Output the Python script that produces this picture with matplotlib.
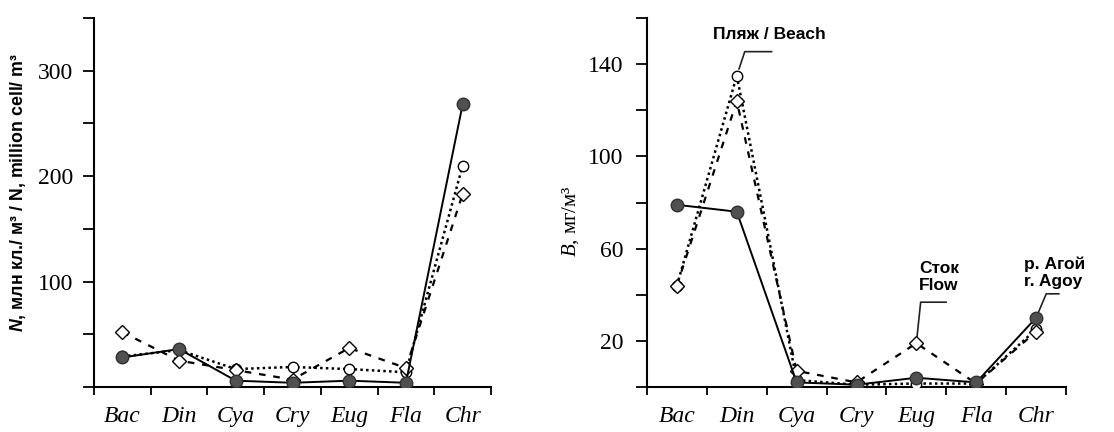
import matplotlib
matplotlib.use("Agg")
import matplotlib.pyplot as plt
import numpy as np

plt.rcParams['mathtext.fontset'] = 'custom'
plt.rcParams['mathtext.it'] = 'Liberation Serif:italic'
plt.rcParams['mathtext.rm'] = 'Liberation Serif'
plt.rcParams['mathtext.bfit'] = 'Liberation Sans:bold:italic'
plt.rcParams['mathtext.bf'] = 'Liberation Sans:bold'

categories = ["Bac", "Din", "Cya", "Cry", "Eug", "Fla", "Chr"]

# Left panel: abundance N, million cells / m3
N_agoy = [28, 36, 6, 4, 6, 4, 268]
N_beach = [29, 35, 17, 19, 17, 14, 210]
N_flow = [52, 25, 16, 7, 37, 18, 183]

# Right panel: biomass B, mg/m3
B_agoy = [79, 76, 2, 1, 4, 2, 30]
B_beach = [44, 135, 3, 1, 1.5, 1.5, 25]
B_flow = [44, 124, 7, 2, 19, 1.5, 24]

left_yticks = [0, 50, 100, 150, 200, 250, 300, 350]
left_ylabels = ["", "", "100", "", "200", "", "300", ""]
right_yticks = [0, 20, 40, 60, 80, 100, 120, 140, 160]
right_ylabels = ["", "20", "", "60", "", "100", "", "140", ""]

fig = plt.figure(figsize=(11.14, 4.32), dpi=100)
axL = fig.add_axes([94/1114, 1-387/432, 397/1114, 369/432])
axR = fig.add_axes([647/1114, 1-387/432, 419/1114, 369/432])

x = np.arange(len(categories))

def draw(ax, agoy, beach, flow, ymax, yticks, ylabels, ypad):
    ax.plot(x, beach, linestyle=(0, (1, 1.3)), lw=1.8, color='black',
            marker='o', ms=7.5, mfc='white', mec='black', mew=1.0, zorder=3)
    ax.plot(x, flow, linestyle=(0, (3, 3.5)), lw=1.6, color='black',
            marker='D', ms=7, mfc='white', mec='black', mew=1.0, zorder=4)
    ax.plot(x, agoy, linestyle='-', lw=1.4, color='black',
            marker='o', ms=9, mfc='#505050', mec='#303030', mew=1.0, zorder=5)
    ax.set_xlim(-0.5, len(categories) - 0.5)
    ax.set_ylim(0, ymax)
    for s in ['top', 'right']:
        ax.spines[s].set_visible(False)
    for s in ['left', 'bottom']:
        ax.spines[s].set_linewidth(1.5)
    ax.set_xticks(np.arange(-0.5, len(categories)), labels=[])
    ax.set_xticks(x, labels=categories, minor=True)
    ax.tick_params(axis='x', which='major', direction='out', length=6, width=1.3)
    ax.tick_params(axis='x', which='minor', length=0, pad=14)
    for t in ax.get_xticklabels(minor=True):
        t.set_fontfamily('Liberation Serif')
        t.set_fontstyle('italic')
        t.set_fontsize(17)
    ax.set_yticks(yticks, labels=ylabels)
    ax.tick_params(axis='y', direction='out', length=8, width=1.3, pad=ypad)
    for t in ax.get_yticklabels():
        t.set_fontfamily('Liberation Serif')
        t.set_fontsize(17)

draw(axL, N_agoy, N_beach, N_flow, 350, left_yticks, left_ylabels, 7)
draw(axR, B_agoy, B_beach, B_flow, 160, right_yticks, right_ylabels, 9)

axL.set_ylabel(r"$\mathbfit{N}$, млн кл./ м³ / N, million cell/ m³",
               fontfamily='Liberation Sans', fontweight='bold', fontsize=12.8)
axL.yaxis.set_label_coords(-0.166, 0.528)
axR.set_ylabel(r"$\mathit{B}$, мг/м³", fontfamily='Liberation Serif', fontsize=15)
axR.yaxis.set_label_coords(-0.158, 0.45)

def leader(ax, i, val, angle, end_off, text, text_off, ha='center'):
    pt = 72 / 100
    ax.annotate('', xy=(i, val), xytext=(end_off[0]*pt, end_off[1]*pt),
                textcoords='offset points',
                arrowprops=dict(arrowstyle='-', lw=1.2, color='#222222',
                                connectionstyle=f'angle,angleA=0,angleB={angle},rad=0',
                                shrinkA=0, shrinkB=5))
    ax.annotate(text, xy=(i, val), xytext=(text_off[0]*pt, text_off[1]*pt),
                textcoords='offset points', ha=ha, va='center',
                fontfamily='Liberation Sans', fontweight='bold', fontsize=12.5,
                linespacing=1.2, annotation_clip=False)

leader(axR, 1, B_beach[1], 71.6, (35, 24), "Пляж / Beach", (33, 41))
leader(axR, 4, B_flow[4], 84, (30, 41), "Сток\nFlow", (3, 66), ha='left')
leader(axR, 6, B_agoy[6], 67, (23, 24), "р. Агой\nr. Agoy", (-12, 45), ha='left')

fig.savefig("out.png", dpi=100)
